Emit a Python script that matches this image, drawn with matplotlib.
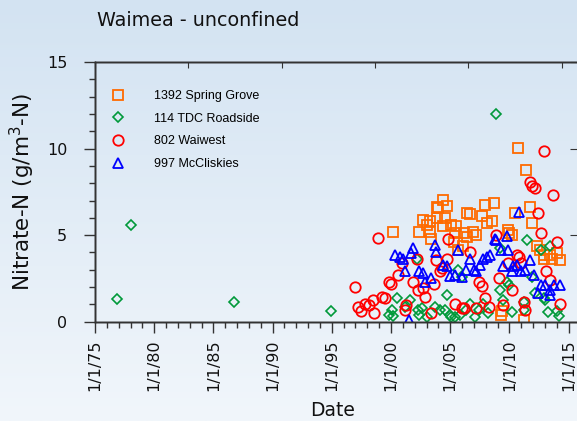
import numpy as np
import matplotlib
matplotlib.use("Agg")
import matplotlib.pyplot as plt

# Data (decimal year, nitrate-N g/m3)
spring_grove_yr = [2000.2, 2002.4, 2002.7, 2003.0, 2003.3, 2003.3, 2003.4, 2003.9, 2003.9, 2004.0,
                   2004.4, 2004.4, 2004.6, 2004.7, 2005.1, 2005.3, 2005.4, 2005.5, 2005.7, 2006.1,
                   2006.2, 2006.4, 2006.4, 2006.7, 2006.9, 2007.2, 2007.7, 2007.9, 2008.1, 2008.5,
                   2008.7, 2009.3, 2009.4, 2009.9, 2010.0, 2010.2, 2010.5, 2010.7, 2011.2, 2011.4,
                   2011.7, 2011.9, 2012.3, 2012.6, 2012.9, 2012.9, 2013.4, 2013.6, 2014.0, 2014.3]
spring_grove_val = [5.2, 5.2, 5.9, 5.6, 5.8, 5.2, 4.8, 6.0, 6.6, 6.55,
                    7.05, 5.5, 6.0, 6.7, 5.6, 4.6, 5.1, 5.5, 4.15, 4.35,
                    5.1, 6.3, 4.9, 6.2, 5.2, 5.0, 6.1, 6.75, 5.7, 5.8,
                    6.85, 0.4, 0.6, 5.3, 5.1, 5.0, 6.3, 10.05, 0.1, 8.75,
                    6.65, 5.7, 4.35, 4.15, 3.85, 3.65, 3.85, 3.65, 3.95, 3.55]

tdc_yr = [1976.9, 1978.0, 1986.7, 1994.9, 1999.8, 2000.1, 2000.2, 2000.5, 2001.2, 2001.6,
          2002.2, 2002.3, 2002.4, 2002.6, 2003.0, 2003.7, 2004.1, 2004.6, 2004.7, 2005.0,
          2005.1, 2005.4, 2005.7, 2005.8, 2006.0, 2006.3, 2006.7, 2007.1, 2007.4, 2007.8,
          2008.2, 2008.9, 2009.2, 2009.2, 2009.5, 2009.8, 2010.0, 2010.2, 2011.2, 2011.2,
          2011.5, 2011.9, 2012.2, 2012.7, 2012.9, 2013.0, 2013.3, 2013.4, 2014.0, 2014.2]
tdc_val = [1.3, 5.6, 1.15, 0.6, 0.4, 0.7, 0.35, 1.35, 0.85, 1.25,
           3.65, 0.7, 0.4, 0.8, 0.3, 0.85, 0.7, 0.7, 1.55, 0.4,
           0.25, 0.3, 3.0, 0.4, 2.6, 0.7, 1.05, 0.3, 0.7, 1.05,
           0.5, 12.0, 4.25, 1.85, 1.25, 2.3, 2.1, 0.55, 1.15, 0.65,
           4.7, 2.6, 1.65, 4.15, 1.35, 1.25, 0.55, 4.35, 0.6, 0.35]

waiwest_yr = [1997.0, 1997.2, 1997.5, 1997.8, 1998.1, 1998.5, 1998.6, 1998.9, 1999.2, 1999.5,
              1999.8, 2000.0, 2000.6, 2000.9, 2001.2, 2001.3, 2001.9, 2002.2, 2002.3, 2002.7,
              2002.9, 2003.4, 2003.6, 2003.8, 2004.1, 2004.3, 2004.7, 2004.8, 2005.4, 2006.0,
              2006.2, 2006.7, 2007.2, 2007.4, 2007.7, 2007.9, 2008.3, 2008.9, 2009.1, 2009.5,
              2009.9, 2010.2, 2010.6, 2010.8, 2011.0, 2011.2, 2011.3, 2011.7, 2011.9, 2012.2,
              2012.4, 2012.7, 2012.9, 2013.1, 2013.4, 2013.7, 2014.0, 2014.3]
waiwest_val = [2.0, 0.85, 0.6, 1.05, 0.95, 1.25, 0.5, 4.85, 1.45, 1.35,
               2.3, 2.2, 2.7, 3.4, 0.7, 0.95, 2.3, 3.65, 1.85, 1.95,
               1.45, 0.5, 2.2, 3.55, 2.9, 3.1, 3.65, 4.75, 1.05, 0.8,
               0.8, 4.05, 0.8, 2.3, 2.05, 1.35, 0.85, 5.0, 2.5, 0.95,
               3.4, 1.85, 3.85, 3.75, 3.4, 1.15, 0.7, 8.05, 7.85, 7.7,
               6.25, 5.1, 9.85, 2.9, 2.4, 7.3, 4.6, 1.05]

mccliskies_yr = [2000.3, 2000.8, 2001.0, 2001.2, 2001.5, 2001.7, 2001.9, 2002.4, 2002.7, 2002.9,
                 2003.4, 2003.7, 2003.8, 2004.4, 2004.7, 2005.0, 2005.4, 2005.7, 2006.0, 2006.3,
                 2006.7, 2007.0, 2007.2, 2007.5, 2007.8, 2008.1, 2008.4, 2008.8, 2008.9, 2009.3,
                 2009.5, 2009.8, 2009.9, 2010.2, 2010.3, 2010.6, 2010.8, 2011.0, 2011.3, 2011.7,
                 2012.1, 2012.4, 2012.7, 2013.0, 2013.4, 2013.4, 2013.8, 2014.3]
mccliskies_val = [3.85, 3.75, 3.65, 2.9, 0.1, 3.95, 4.25, 2.9, 2.8, 2.3,
                  2.5, 4.45, 4.05, 3.25, 3.2, 2.65, 2.7, 4.15, 2.6, 3.0,
                  3.65, 3.0, 2.9, 3.3, 3.65, 3.75, 3.85, 4.75, 4.7, 4.15,
                  3.2, 4.95, 4.15, 2.9, 3.2, 3.3, 6.35, 2.9, 3.0, 3.55,
                  2.7, 1.65, 2.1, 2.1, 1.85, 1.55, 2.1, 2.1]

tick_years = [1975, 1980, 1985, 1990, 1995, 2000, 2005, 2010, 2015]
tick_labels = ["1/1/75", "1/1/80", "1/1/85", "1/1/90", "1/1/95",
               "1/1/00", "1/1/05", "1/1/10", "1/1/15"]

W, H = 577, 421
fig = plt.figure(figsize=(W / 100, H / 100), dpi=100)

# light blue gradient background
bg = fig.add_axes([0, 0, 1, 1], zorder=-10)
grad = np.linspace(0, 1, 256).reshape(-1, 1)
top_c = np.array([211, 227, 242]) / 255
bot_c = np.array([241, 246, 251]) / 255
img = top_c + (bot_c - top_c) * grad[..., None]
bg.imshow(img, aspect="auto", extent=[0, 1, 0, 1], origin="upper")
bg.axis("off")

x0, x1 = 95, 580
y0, y1 = 321.7, 62
ax = fig.add_axes([x0 / W, (H - y0) / H, (x1 - x0) / W, (y0 - y1) / H])
ax.set_facecolor("none")

px_per_year = 59.2 / 5
ax.set_xlim(1975, 1975 + (x1 - x0) / px_per_year)
ax.set_ylim(0, 15)

ax.plot(spring_grove_yr, spring_grove_val, ls="none", marker="s", ms=7, mfc="none",
        mec="#ff6a00", mew=1.3, label="1392 Spring Grove")
ax.plot(tdc_yr, tdc_val, ls="none", marker="D", ms=5, mfc="none",
        mec="#00993a", mew=1.2, label="114 TDC Roadside")
ax.plot(waiwest_yr, waiwest_val, ls="none", marker="o", ms=7.5, mfc="none",
        mec="#ff0000", mew=1.3, label="802 Waiwest")
ax.plot(mccliskies_yr, mccliskies_val, ls="none", marker="^", ms=7.5, mfc="none",
        mec="#0000ff", mew=1.3, label="997 McCliskies")

ax.set_xticks(tick_years)
ax.set_xticklabels(tick_labels, rotation=90, fontsize=11.5, color="#111111")
ax.set_xticks(np.arange(1975, 2016), minor=True)
ax.set_yticks([0, 5, 10, 15])
ax.set_yticks(np.arange(0, 16), minor=True)
ax.tick_params(axis="y", labelsize=11.5, labelcolor="#111111")
ax.tick_params(axis="both", which="major", direction="out", length=8, width=1, color="#333333")
ax.tick_params(axis="both", which="minor", direction="out", length=4, width=1, color="#333333")
ax.tick_params(axis="x", which="major", pad=5)
ax.tick_params(axis="y", which="major", pad=12)

# right-side inward ticks via twin
axr = ax.twinx()
axr.set_ylim(0, 15)
axr.set_yticks([0, 5, 10, 15])
axr.tick_params(axis="y", direction="in", length=7, color="#333333", labelright=False)
axr.yaxis.set_minor_locator(plt.NullLocator())

# top inward ticks
axt = ax.twiny()
axt.set_xlim(0, (x1 - x0) / 93.33)
axt.set_xticks(range(6))
axt.tick_params(axis="x", direction="in", length=4, color="#333333", labeltop=False)

for a in (ax, axr, axt):
    for s in a.spines.values():
        s.set_color("#333333")
        s.set_linewidth(1)

ax.set_xlabel("Date", fontsize=13.5, color="#111111")
ax.xaxis.set_label_coords((333 - x0) / (x1 - x0), -(401.5 - y0) / (y0 - y1), transform=ax.transAxes)
ax.set_ylabel("Nitrate-N (g/m$^3$-N)", fontsize=15.5, color="#111111")
ax.yaxis.set_label_coords(-(95 - 37) / (x1 - x0), (y0 - 192) / (y0 - y1), transform=ax.transAxes)

fig.text(97 / W, 1 - 20 / H, "Waimea - unconfined", fontsize=13.8, color="#111111",
         ha="left", va="center")

ax.legend(loc="upper left", bbox_to_anchor=((112 - x0) / (x1 - x0), (y0 - 90) / (y0 - y1)),
          frameon=False, borderpad=0, handlelength=1.0, handletextpad=2.4,
          labelspacing=0.85, prop={"family": "Liberation Sans", "size": 9}, borderaxespad=0)

fig.savefig("out.png", dpi=100)
